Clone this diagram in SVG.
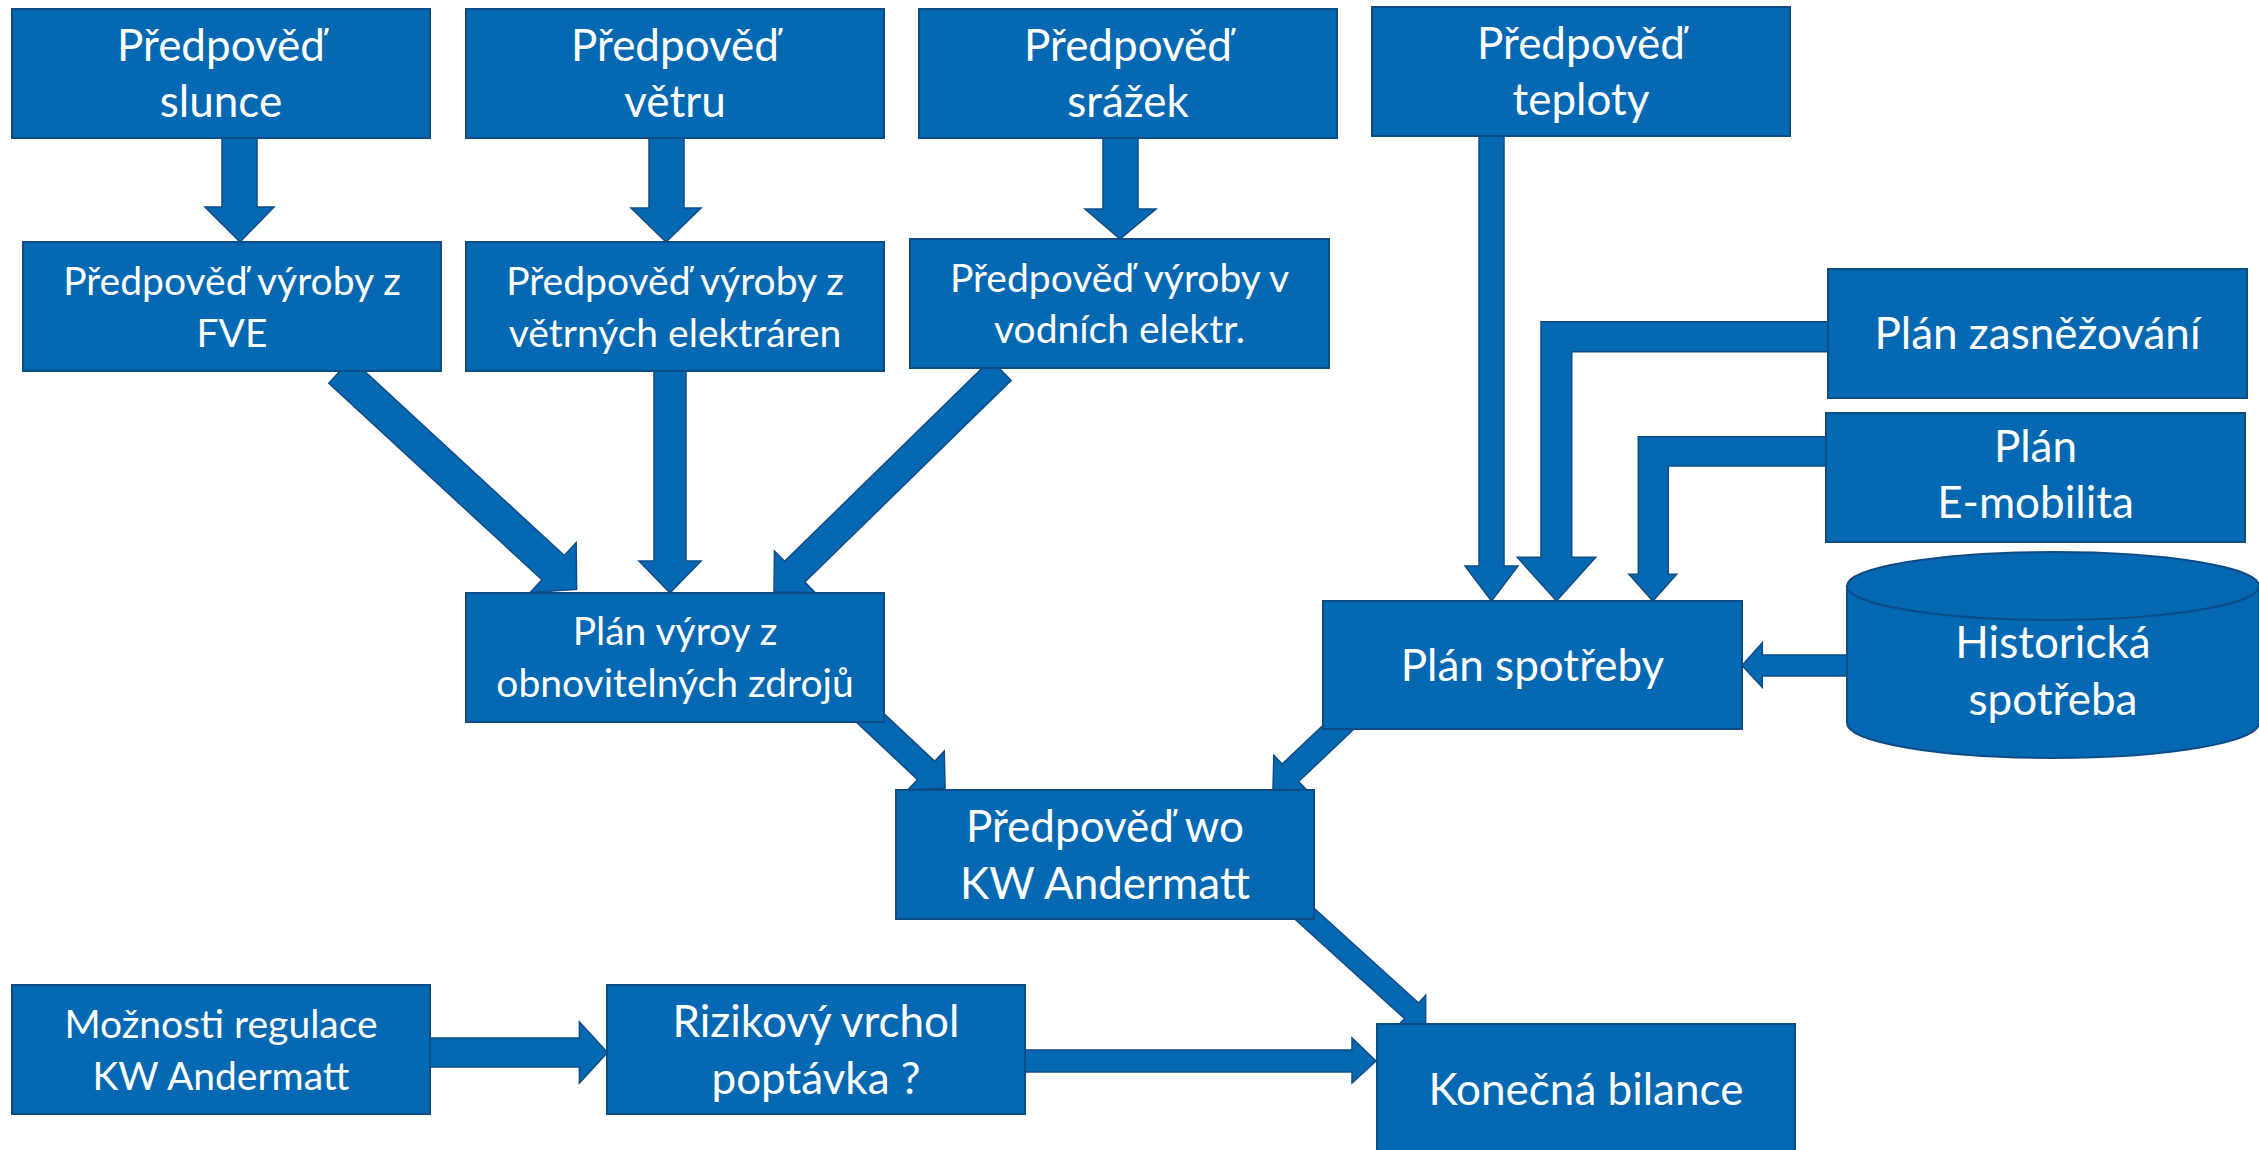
<svg xmlns="http://www.w3.org/2000/svg" width="2259" height="1150" viewBox="0 0 2259 1150">
<style>
.box{fill:#0568B3;stroke:#0F4C86;stroke-width:2}
.arr{fill:#0568B3;stroke:#0F4C86;stroke-width:1.5;stroke-linejoin:miter}
.t{font-family:Lato,"Liberation Sans",sans-serif;fill:#FFFFFF;text-anchor:middle;font-size:44px}
.s{font-size:39px}
</style>
<rect width="2259" height="1150" fill="#FFFFFF"/>
<g id="connectors">
  <!-- slunce -> FVE -->
  <polygon class="arr" points="222,137 257,137 257,207 274,207 240,242 205,207 222,207"/>
  <!-- vetru -> vetrnych -->
  <polygon class="arr" points="649,137 684,137 684,208 701,208 666,242 631,208 649,208"/>
  <!-- srazek -> vodnich -->
  <polygon class="arr" points="1103,137 1138,137 1138,209 1156,209 1120,239 1085,209 1103,209"/>
  <!-- vetrnych -> plan vyroby -->
  <polygon class="arr" points="654,370 686,370 686,561 701,561 670,593 639,561 654,561"/>
  <!-- FVE -> plan vyroby (diagonal) -->
  <polygon class="arr" transform="translate(340,371) rotate(42.7)" points="0,-16.5 290,-16.5 290,-34 322,0 290,34 290,16.5 0,16.5"/>
  <!-- vodnich -> plan vyroby (diagonal) -->
  <polygon class="arr" transform="translate(1001,370) rotate(135.64)" points="0,-14.5 288.5,-14.5 288.5,-29 317.5,0 288.5,29 288.5,14.5 0,14.5"/>
  <!-- plan vyroby -> wo -->
  <polygon class="arr" transform="translate(866,714) rotate(43.2)" points="0,-12.5 82.5,-12.5 82.5,-26.5 108.5,0 82.5,26.5 82.5,12.5 0,12.5"/>
  <!-- spotreby -> wo -->
  <polygon class="arr" transform="translate(1345,721) rotate(136.5)" points="0,-12 75.3,-12 75.3,-24 99.3,0 75.3,24 75.3,12 0,12"/>
  <!-- wo -> konecna -->
  <polygon class="arr" transform="translate(1296,906) rotate(42.2)" points="0,-10.5 156,-10.5 156,-21 175,0 156,21 156,10.5 0,10.5"/>
  <!-- teploty -> spotreby -->
  <polygon class="arr" points="1479,135 1504,135 1504,566 1518,566 1491.5,601 1465,566 1479,566"/>
  <!-- zasnezovani -> spotreby -->
  <polygon class="arr" points="1830,321.7 1541,321.7 1541,557.3 1517.3,557.3 1556.5,601 1595.7,557.3 1571.7,557.3 1571.7,351.7 1830,351.7"/>
  <!-- e-mobilita -> spotreby -->
  <polygon class="arr" points="1828,436.7 1638.3,436.7 1638.3,574.3 1629,574.3 1652.8,601 1676.7,574.3 1668.3,574.3 1668.3,466 1828,466"/>
  <!-- historicka -> spotreby -->
  <polygon class="arr" points="1849,655 1762.3,655 1762.3,642.7 1742,665.5 1762.3,687.3 1762.3,676 1849,676"/>
  <!-- moznosti -> rizikovy -->
  <polygon class="arr" points="430,1038 579.4,1038 579.4,1022 607.5,1052.5 579.4,1083 579.4,1067 430,1067"/>
  <!-- rizikovy -> konecna -->
  <polygon class="arr" points="1024,1050 1352,1050 1352,1038 1376,1061 1352,1083 1352,1072 1024,1072"/>
</g>
<g id="n-slunce"><rect class="box" x="12" y="9" width="418" height="129"/>
  <text class="t" x="221" y="61">Předpověď</text><text class="t" x="221" y="117">slunce</text></g>
<g id="n-vetru"><rect class="box" x="466" y="9" width="418" height="129"/>
  <text class="t" x="675" y="61">Předpověď</text><text class="t" x="675" y="117">větru</text></g>
<g id="n-srazek"><rect class="box" x="919" y="9" width="418" height="129"/>
  <text class="t" x="1128" y="61">Předpověď</text><text class="t" x="1128" y="117">srážek</text></g>
<g id="n-teploty"><rect class="box" x="1372" y="7" width="418" height="129"/>
  <text class="t" x="1581" y="58.5">Předpověď</text><text class="t" x="1581" y="115">teploty</text></g>
<g id="n-fve"><rect class="box" x="23" y="242" width="418" height="129"/>
  <text class="t s" x="232" y="295">Předpověď výroby z</text><text class="t s" x="232" y="347">FVE</text></g>
<g id="n-vetrnych"><rect class="box" x="466" y="242" width="418" height="129"/>
  <text class="t s" x="675" y="295">Předpověď výroby z</text><text class="t s" x="675" y="347">větrných elektráren</text></g>
<g id="n-vodnich"><rect class="box" x="910" y="239" width="419" height="129"/>
  <text class="t s" x="1119.5" y="292">Předpověď výroby v</text><text class="t s" x="1119.5" y="343">vodních elektr.</text></g>
<g id="n-planvyroby"><rect class="box" x="466" y="593" width="418" height="129"/>
  <text class="t s" x="675" y="645">Plán výroy z</text><text class="t s" x="675" y="697">obnovitelných zdrojů</text></g>
<g id="n-zasnezovani"><rect class="box" x="1828" y="269" width="419" height="129"/>
  <text class="t" x="2037.5" y="349">Plán zasněžování</text></g>
<g id="n-emobilita"><rect class="box" x="1826" y="413" width="419" height="129"/>
  <text class="t" x="2035.5" y="462">Plán</text><text class="t" x="2035.5" y="518">E-mobilita</text></g>
<g id="n-historicka">
  <path class="box" d="M1847,586 L1847,723 A206,35 0 0 0 2259,723 L2259,586 Z"/>
  <ellipse class="box" cx="2053" cy="586" rx="206" ry="34"/>
  <text class="t" x="2053" y="658">Historická</text><text class="t" x="2053" y="715">spotřeba</text></g>
<g id="n-spotreby"><rect class="box" x="1323" y="601" width="419" height="128"/>
  <text class="t" x="1532.5" y="681">Plán spotřeby</text></g>
<g id="n-wo"><rect class="box" x="896" y="790" width="418" height="129"/>
  <text class="t" x="1105" y="842">Předpověď wo</text><text class="t" x="1105" y="899">KW Andermatt</text></g>
<g id="n-moznosti"><rect class="box" x="12" y="985" width="418" height="129"/>
  <text class="t s" x="221" y="1038">Možnosti regulace</text><text class="t s" x="221" y="1089.5">KW Andermatt</text></g>
<g id="n-rizikovy"><rect class="box" x="607" y="985" width="418" height="129"/>
  <text class="t" x="816" y="1036.5">Rizikový vrchol</text><text class="t" x="816" y="1094">poptávka ?</text></g>
<g id="n-konecna"><rect class="box" x="1377" y="1024" width="418" height="130"/>
  <text class="t" x="1586" y="1105">Konečná bilance</text></g>
</svg>
